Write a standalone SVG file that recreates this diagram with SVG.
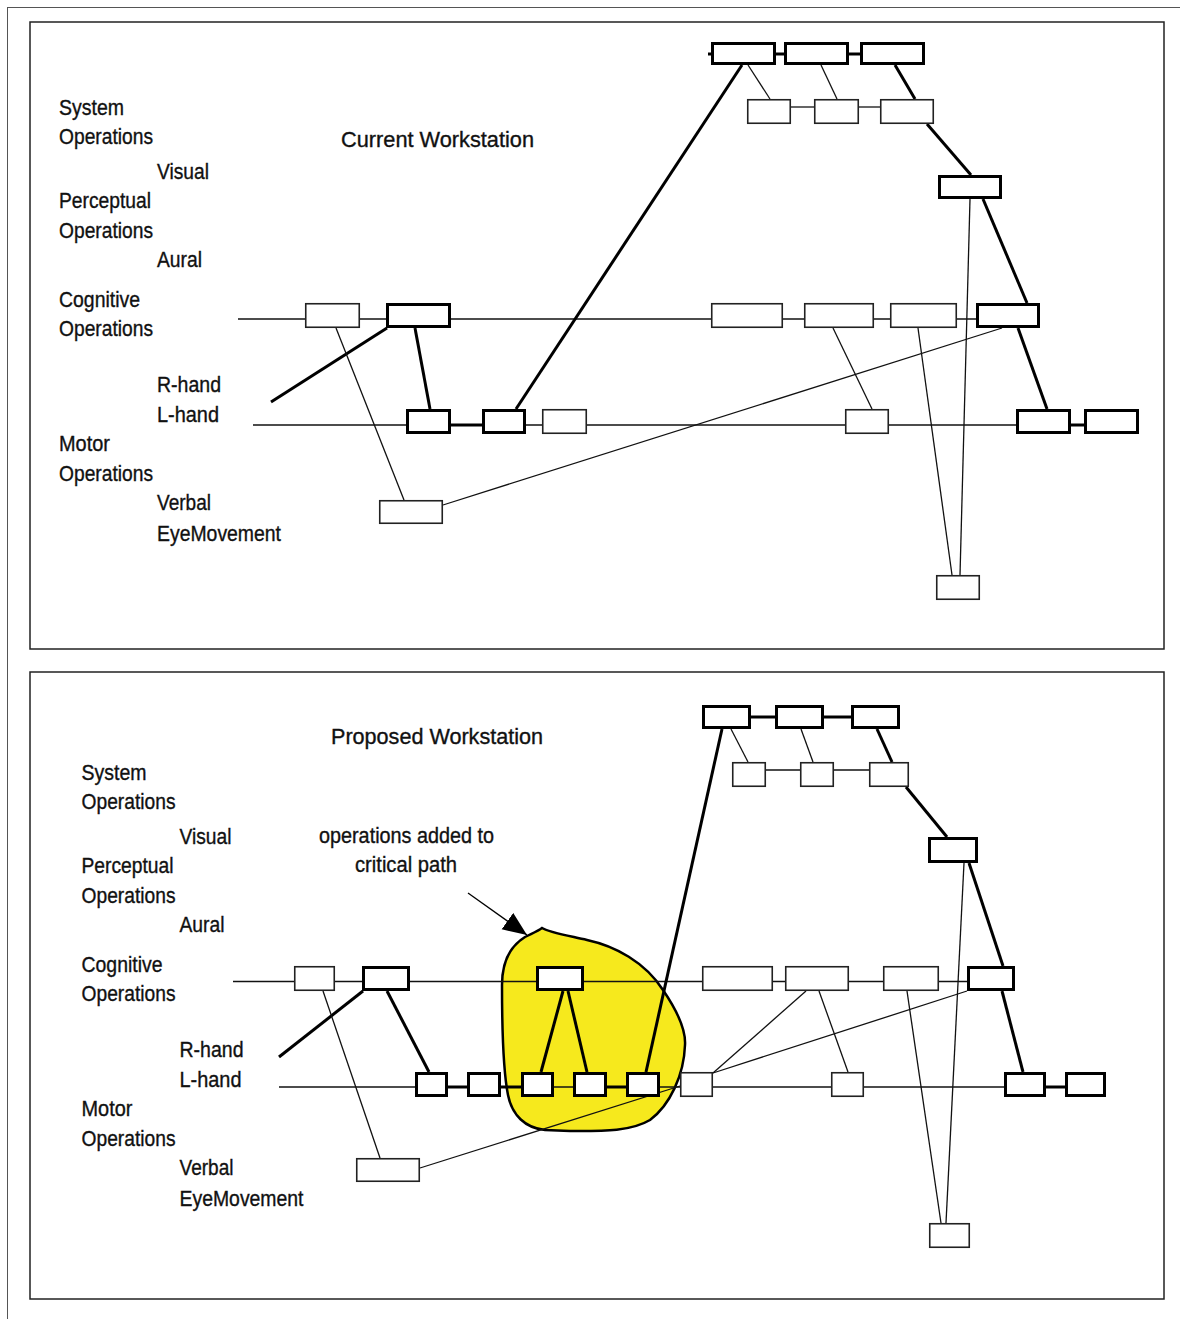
<svg xmlns="http://www.w3.org/2000/svg" width="1180" height="1319" viewBox="0 0 1180 1319">
<style>
text{font-family:"Liberation Sans",Arial,sans-serif;font-size:22px;fill:#111;stroke:#111;stroke-width:0.35}
.frame{fill:none;stroke:#555;stroke-width:1}
.panel{fill:#fff;stroke:#222;stroke-width:1.5}
.thin{stroke:#111;stroke-width:1.3;fill:none}
.thick{stroke:#000;stroke-width:3;fill:none}
.bt{fill:#fff;stroke:#000;stroke-width:3}
.bn{fill:#fff;stroke:#222;stroke-width:1.6}
.blob{fill:#f6e91d;stroke:#000;stroke-width:2.5}
</style>
<defs>
<marker id="ah" markerUnits="userSpaceOnUse" markerWidth="26" markerHeight="22" refX="24" refY="10" orient="auto">
<path d="M0,0 L24,10 L0,20 Z" fill="#000"/>
</marker>
<g id="labels">
<text x="59" y="115" textLength="65" lengthAdjust="spacingAndGlyphs">System</text>
<text x="59" y="144" textLength="94" lengthAdjust="spacingAndGlyphs">Operations</text>
<text x="157" y="179" textLength="52" lengthAdjust="spacingAndGlyphs">Visual</text>
<text x="59" y="208" textLength="92" lengthAdjust="spacingAndGlyphs">Perceptual</text>
<text x="59" y="238" textLength="94" lengthAdjust="spacingAndGlyphs">Operations</text>
<text x="157" y="267" textLength="45" lengthAdjust="spacingAndGlyphs">Aural</text>
<text x="59" y="307" textLength="81" lengthAdjust="spacingAndGlyphs">Cognitive</text>
<text x="59" y="336" textLength="94" lengthAdjust="spacingAndGlyphs">Operations</text>
<text x="157" y="392" textLength="64" lengthAdjust="spacingAndGlyphs">R-hand</text>
<text x="157" y="422" textLength="62" lengthAdjust="spacingAndGlyphs">L-hand</text>
<text x="59" y="451" textLength="51" lengthAdjust="spacingAndGlyphs">Motor</text>
<text x="59" y="481" textLength="94" lengthAdjust="spacingAndGlyphs">Operations</text>
<text x="157" y="510" textLength="54" lengthAdjust="spacingAndGlyphs">Verbal</text>
<text x="157" y="541" textLength="124" lengthAdjust="spacingAndGlyphs">EyeMovement</text>
</g>
</defs>

<g id="frame">
<line class="frame" x1="7.5" y1="7" x2="7.5" y2="1319"/>
<line class="frame" x1="7" y1="7.5" x2="1180" y2="7.5"/>
</g>

<!-- ===== Top panel ===== -->
<g id="panel-current">
<rect class="panel" x="30" y="22" width="1134" height="627"/>
<use href="#labels"/>
<text x="341" y="147" textLength="193" lengthAdjust="spacingAndGlyphs">Current Workstation</text>
</g>

<g id="connectors-current">
<line class="thin" x1="238" y1="319" x2="976" y2="319"/>
<line class="thin" x1="253" y1="425" x2="1016" y2="425"/>
<line class="thick" x1="708" y1="54" x2="711" y2="54"/>
<line class="thick" x1="776" y1="54" x2="784" y2="54"/>
<line class="thick" x1="849" y1="54" x2="860" y2="54"/>
<line class="thin" x1="791" y1="107" x2="814" y2="107"/>
<line class="thin" x1="859" y1="107" x2="880" y2="107"/>
<line class="thin" x1="748" y1="65" x2="770" y2="99"/>
<line class="thin" x1="821" y1="65" x2="837" y2="99"/>
<line class="thick" x1="895" y1="65" x2="915" y2="99"/>
<line class="thick" x1="927" y1="124" x2="971" y2="175"/>
<line class="thick" x1="983" y1="199" x2="1027" y2="303"/>
<line class="thin" x1="970" y1="199" x2="960" y2="575"/>
<line class="thick" x1="742" y1="65" x2="516" y2="409"/>
<line class="thick" x1="451" y1="425" x2="482" y2="425"/>
<line class="thick" x1="1071" y1="425" x2="1084" y2="425"/>
<line class="thick" x1="415" y1="328" x2="430" y2="409"/>
<line class="thick" x1="387" y1="328" x2="271" y2="402"/>
<line class="thin" x1="336" y1="328" x2="404" y2="500"/>
<line class="thin" x1="443" y1="505" x2="1002" y2="328"/>
<line class="thin" x1="833" y1="328" x2="872" y2="409"/>
<line class="thin" x1="918" y1="328" x2="952" y2="575"/>
<line class="thick" x1="1018" y1="328" x2="1047" y2="409"/>
</g>

<g id="nodes-current">
<g id="t-sys1"><rect class="bt" x="712.5" y="43.5" width="62" height="20"/></g>
<g id="t-sys2"><rect class="bt" x="785.5" y="43.5" width="62" height="20"/></g>
<g id="t-sys3"><rect class="bt" x="861.5" y="43.5" width="62" height="20"/></g>
<g id="t-sub1"><rect class="bn" x="747.75" y="99.75" width="42.5" height="23.5"/></g>
<g id="t-sub2"><rect class="bn" x="814.75" y="99.75" width="43.5" height="23.5"/></g>
<g id="t-sub3"><rect class="bn" x="880.75" y="99.75" width="52.5" height="23.5"/></g>
<g id="t-vis"><rect class="bt" x="939.5" y="176.5" width="61" height="21"/></g>
<g id="t-cog1"><rect class="bn" x="305.75" y="303.75" width="53.5" height="23.5"/></g>
<g id="t-cog2"><rect class="bt" x="387.5" y="304.5" width="62" height="22"/></g>
<g id="t-cog3"><rect class="bn" x="711.75" y="303.75" width="70.5" height="23.5"/></g>
<g id="t-cog4"><rect class="bn" x="804.75" y="303.75" width="68.5" height="23.5"/></g>
<g id="t-cog5"><rect class="bn" x="890.75" y="303.75" width="65.5" height="23.5"/></g>
<g id="t-cog6"><rect class="bt" x="977.5" y="304.5" width="61" height="22"/></g>
<g id="t-mot1"><rect class="bt" x="407.5" y="410.5" width="42" height="22"/></g>
<g id="t-mot2"><rect class="bt" x="483.5" y="410.5" width="41" height="22"/></g>
<g id="t-mot3"><rect class="bn" x="542.75" y="409.75" width="43.5" height="23.5"/></g>
<g id="t-mot4"><rect class="bn" x="845.75" y="409.75" width="42.5" height="23.5"/></g>
<g id="t-mot5"><rect class="bt" x="1017.5" y="410.5" width="52" height="22"/></g>
<g id="t-mot6"><rect class="bt" x="1085.5" y="410.5" width="52" height="22"/></g>
<g id="t-verbal"><rect class="bn" x="379.75" y="500.75" width="62.5" height="22.5"/></g>
<g id="t-eye"><rect class="bn" x="936.75" y="575.75" width="42.5" height="23.5"/></g>
</g>

<!-- ===== Bottom panel ===== -->
<g id="panel-proposed">
<rect class="panel" x="30" y="672" width="1134" height="627"/>
<use href="#labels" transform="translate(22.5,665)"/>
<text x="331" y="744" textLength="212" lengthAdjust="spacingAndGlyphs">Proposed Workstation</text>
<text x="319" y="843" textLength="175" lengthAdjust="spacingAndGlyphs">operations added to</text>
<text x="355" y="872" textLength="102" lengthAdjust="spacingAndGlyphs">critical path</text>
</g>

<g id="blob">
<path class="blob" d="M542,928 C548,932 565,935 587,940 C615,946 645,962 663,990 C678,1012 686,1030 685,1045 C684,1075 670,1105 650,1120 C630,1132 600,1131 570,1131 L545,1130 C525,1128 512,1115 508,1095 C503,1070 502,1030 502,985 C502,960 512,945 525,937 C533,933 538,931 542,928 Z"/>
</g>

<g id="connectors-proposed">
<line x1="468" y1="893" x2="527" y2="935" stroke="#000" stroke-width="1.3" marker-end="url(#ah)"/>
<line class="thin" x1="233" y1="981.5" x2="967" y2="981.5"/>
<line class="thin" x1="279" y1="1087" x2="1004" y2="1087"/>
<line class="thick" x1="751" y1="717" x2="775" y2="717"/>
<line class="thick" x1="824" y1="717" x2="851" y2="717"/>
<line class="thin" x1="766" y1="770" x2="800" y2="770"/>
<line class="thin" x1="834" y1="770" x2="869" y2="770"/>
<line class="thin" x1="731" y1="729" x2="748" y2="762"/>
<line class="thin" x1="801" y1="729" x2="813" y2="762"/>
<line class="thick" x1="877" y1="729" x2="892" y2="762"/>
<line class="thick" x1="906" y1="787" x2="947" y2="837"/>
<line class="thick" x1="969" y1="863" x2="1003" y2="966"/>
<line class="thin" x1="964" y1="863" x2="946" y2="1223"/>
<line class="thick" x1="722" y1="729" x2="646" y2="1072"/>
<line class="thick" x1="448" y1="1087" x2="467" y2="1087"/>
<line class="thick" x1="501" y1="1087" x2="521" y2="1087"/>
<line class="thick" x1="607" y1="1087" x2="626" y2="1087"/>
<line class="thick" x1="1046" y1="1087" x2="1065" y2="1087"/>
<line class="thick" x1="387" y1="991" x2="429" y2="1072"/>
<line class="thick" x1="363" y1="991" x2="279" y2="1057"/>
<line class="thin" x1="323" y1="991" x2="380" y2="1158"/>
<line class="thick" x1="563" y1="991" x2="541" y2="1072"/>
<line class="thick" x1="568" y1="991" x2="587" y2="1072"/>
<line class="thin" x1="420" y1="1168" x2="680" y2="1086"/>
<line class="thin" x1="713" y1="1073" x2="806" y2="991"/>
<line class="thin" x1="713" y1="1073" x2="967" y2="991"/>
<line class="thin" x1="819" y1="991" x2="848" y2="1072"/>
<line class="thin" x1="907" y1="991" x2="941" y2="1223"/>
<line class="thick" x1="1002" y1="991" x2="1023" y2="1072"/>
</g>

<g id="nodes-proposed">
<g id="p-sys1"><rect class="bt" x="703.5" y="706.5" width="46" height="21"/></g>
<g id="p-sys2"><rect class="bt" x="776.5" y="706.5" width="46" height="21"/></g>
<g id="p-sys3"><rect class="bt" x="852.5" y="706.5" width="46" height="21"/></g>
<g id="p-sub1"><rect class="bn" x="732.75" y="762.75" width="32.5" height="23.5"/></g>
<g id="p-sub2"><rect class="bn" x="800.75" y="762.75" width="32.5" height="23.5"/></g>
<g id="p-sub3"><rect class="bn" x="869.75" y="762.75" width="38.5" height="23.5"/></g>
<g id="p-vis"><rect class="bt" x="929.5" y="838.5" width="47" height="23"/></g>
<g id="p-cog1"><rect class="bn" x="294.75" y="966.75" width="39.5" height="23.5"/></g>
<g id="p-cog2"><rect class="bt" x="363.5" y="967.5" width="45" height="22"/></g>
<g id="p-cog3"><rect class="bt" x="537.5" y="967.5" width="45" height="22"/></g>
<g id="p-cog4"><rect class="bn" x="702.75" y="966.75" width="69.5" height="23.5"/></g>
<g id="p-cog5"><rect class="bn" x="785.75" y="966.75" width="62.5" height="23.5"/></g>
<g id="p-cog6"><rect class="bn" x="883.75" y="966.75" width="54.5" height="23.5"/></g>
<g id="p-cog7"><rect class="bt" x="968.5" y="967.5" width="45" height="22"/></g>
<g id="p-mot1"><rect class="bt" x="416.5" y="1073.5" width="30" height="22"/></g>
<g id="p-mot2"><rect class="bt" x="468.5" y="1073.5" width="31" height="22"/></g>
<g id="p-mot3"><rect class="bt" x="522.5" y="1073.5" width="30" height="22"/></g>
<g id="p-mot4"><rect class="bt" x="574.5" y="1073.5" width="31" height="22"/></g>
<g id="p-mot5"><rect class="bt" x="627.5" y="1073.5" width="31" height="22"/></g>
<g id="p-mot6"><rect class="bn" x="680.75" y="1072.75" width="31.5" height="23.5"/></g>
<g id="p-mot7"><rect class="bn" x="831.75" y="1072.75" width="31.5" height="23.5"/></g>
<g id="p-mot8"><rect class="bt" x="1005.5" y="1073.5" width="39" height="22"/></g>
<g id="p-mot9"><rect class="bt" x="1066.5" y="1073.5" width="38" height="22"/></g>
<g id="p-verbal"><rect class="bn" x="356.75" y="1158.75" width="62.5" height="22.5"/></g>
<g id="p-eye"><rect class="bn" x="929.75" y="1223.75" width="39.5" height="23.5"/></g>
</g>
</svg>
